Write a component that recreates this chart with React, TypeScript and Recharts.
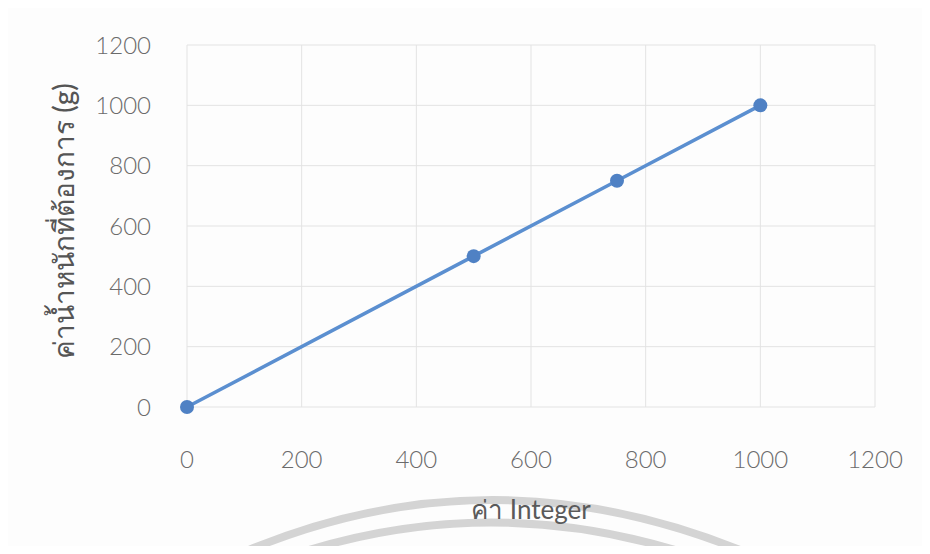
import React from "react";
import {
  ScatterChart,
  Scatter,
  XAxis,
  YAxis,
  CartesianGrid,
  Label,
} from "recharts";

const integerValues = [0, 500, 750, 1000];
const weightValues = [0, 500, 750, 1000];
const axisTicks = [0, 200, 400, 600, 800, 1000, 1200];

const points = integerValues.map((x, i) => ({ x, y: weightValues[i] }));

const FONT = "Lato, 'Open Sans', 'Noto Sans', sans-serif";

export default function App() {
  return (
    <div
      style={{
        position: "relative",
        width: 930,
        height: 554,
        margin: -8,
        background: "#fdfdfd",
        overflow: "hidden",
        fontFamily: FONT,
      }}
    >
      {/* faint arcs from the scanned page */}
      <svg
        width={930}
        height={554}
        style={{ position: "absolute", left: 0, top: 0 }}
      >
        <path d="M 215 565 Q 490 435 775 565" stroke="#d4d4d4" strokeWidth={8} fill="none" />
        <path d="M 265 565 Q 490 480 720 565" stroke="#d4d4d4" strokeWidth={8} fill="none" />
      </svg>
      <div style={{ position: "absolute", left: 0, top: 0 }}>
        <ScatterChart
          width={930}
          height={554}
          margin={{ top: 45, right: 55, left: 0, bottom: 0 }}
        >
          <CartesianGrid stroke="#e3e3e3" strokeWidth={1} />
          <XAxis
            type="number"
            dataKey="x"
            domain={[0, 1200]}
            ticks={axisTicks}
            height={147}
            axisLine={false}
            tickLine={false}
            tickMargin={38}
            tick={{ fill: "#6b6b6b", fontSize: 24, fontFamily: FONT, fontWeight: 300 }}
          >
            <Label
              value="ค่า Integer"
              position="insideTop"
              offset={94}
              style={{ fill: "#5a5a5a", fontSize: 26, fontFamily: FONT }}
            />
          </XAxis>
          <YAxis
            type="number"
            dataKey="y"
            domain={[0, 1200]}
            ticks={axisTicks}
            width={187}
            axisLine={false}
            tickLine={false}
            tickMargin={30}
            tick={{ fill: "#6b6b6b", fontSize: 24, fontFamily: FONT, fontWeight: 300 }}
          >
            <Label
              value="ค่าน้ำหนักที่ต้องการ (g)"
              angle={-90}
              position="insideLeft"
              offset={64}
              dy={-5}
              style={{
                fill: "#555",
                fontSize: 28,
                fontWeight: 500,
                fontFamily: FONT,
                textAnchor: "middle",
              }}
            />
          </YAxis>
          <Scatter
            data={points}
            fill="#4f81c4"
            line={{ stroke: "#5b8fd0", strokeWidth: 3.5 }}
            shape={(props: any) => (
              <circle cx={props.cx} cy={props.cy} r={7} fill="#4f81c4" />
            )}
            isAnimationActive={false}
          />
        </ScatterChart>
      </div>
    </div>
  );
}
